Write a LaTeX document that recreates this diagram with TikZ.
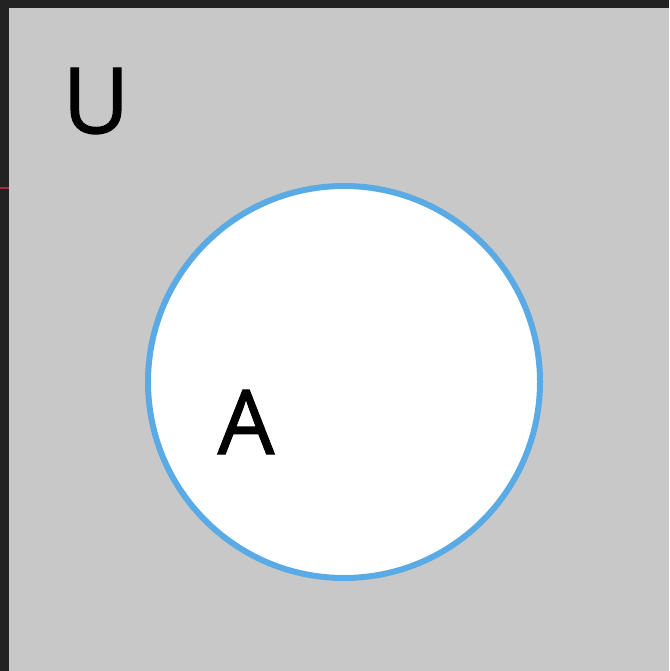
\documentclass[tikz,border=0pt]{standalone}
\usepackage{fontspec}
\setmainfont{Open Sans}
\newfontfamily\labelfont{Open Sans}[FakeBold=1.3]
\usepackage{xcolor}
\usepackage{tikz}
\usetikzlibrary{positioning,calc}
\definecolor{frameblack}{RGB}{34, 34, 34}
\definecolor{univgray}{RGB}{200, 200, 200}
\definecolor{setblue}{RGB}{90, 170, 230}
\definecolor{markred}{RGB}{170, 40, 70}

\begin{document}
\begin{tikzpicture}[x=0.02cm, y=-0.02cm]
        \fill[frameblack] (0,0) rectangle (669,671);
        \useasboundingbox (0,0) rectangle (669,671);
        \fill[univgray] (9,8) rectangle (669,671);
        \draw[markred, line width=1.2pt] (0,188) -- (9,188);

        \node[circle, draw=setblue, line width=6*0.02cm, fill=white, minimum size=392*0.02cm, inner sep=0pt] (setA) at (344,382) {};
        \node[font=\labelfont\fontsize{52}{60}\selectfont, inner sep=0pt] (ulabel) at (96,101) {U};
        \node[font=\labelfont\fontsize{51}{60}\selectfont, inner sep=0pt] (alabel) at (246,422) {A};
    \end{tikzpicture}
\end{document}
